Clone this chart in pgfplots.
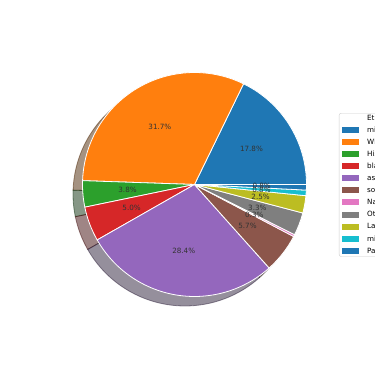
\documentclass[border=0pt]{standalone}
\usepackage{pgfplots}
\pgfplotsset{compat=1.18}
\usepackage{fontspec}
\setmainfont{DejaVu Sans}
\definecolor{c0}{HTML}{1F77B4}
\definecolor{c1}{HTML}{FF7F0E}
\definecolor{c2}{HTML}{2CA02C}
\definecolor{c3}{HTML}{D62728}
\definecolor{c4}{HTML}{9467BD}
\definecolor{c5}{HTML}{8C564B}
\definecolor{c6}{HTML}{E377C2}
\definecolor{c7}{HTML}{7F7F7F}
\definecolor{c8}{HTML}{BCBD22}
\definecolor{c9}{HTML}{17BECF}
% shares (percent) and colours, in the order of the legend
\def\slices{17.8/c0, 31.7/c1, 3.8/c2, 5.0/c3, 28.4/c4, 5.7/c5, 0.3/c6, 3.3/c7, 2.5/c8, 0.8/c9, 0.8/c0}
\def\total{100.1}
\begin{document}
\begin{tikzpicture}
\path[use as bounding box] (0,0) rectangle (375pt,366pt);
\clip (0,0) rectangle (375pt,366pt);
\begin{axis}[
  hide axis, x=112pt, y=112pt,
  xmin=-1, xmax=1, ymin=-1, ymax=1,
  anchor=origin, at={(194.5pt,181.5pt)},
  clip=false,
  legend cell align=left,
  legend image code/.code={\fill[#1, draw=none, sharp corners] (0pt,-0.6pt) rectangle (17pt,5.4pt); \path[draw=none, fill=none] (0pt,0pt) -- (25pt,0pt);},
  legend style={at={(axis description cs:1.145,0.819)}, anchor=north west,
    draw=black!20, rounded corners=2pt, fill=white,
    inner xsep=3pt, inner ysep=2pt,
    font=\fontsize{7.2}{8}\selectfont,
    row sep=5.25pt, column sep=0pt,
    nodes={inner sep=0pt, text height=5.3pt, text depth=1.4pt, anchor=base west}},
]
\addlegendimage{empty legend}\addlegendentry{Ethnicity}
\addlegendimage{fill=c0}\addlegendentry{mixed}
\addlegendimage{fill=c1}\addlegendentry{White}
\addlegendimage{fill=c2}\addlegendentry{Hispanic}
\addlegendimage{fill=c3}\addlegendentry{black}
\addlegendimage{fill=c4}\addlegendentry{asian}
\addlegendimage{fill=c5}\addlegendentry{south asian}
\addlegendimage{fill=c6}\addlegendentry{Native American}
\addlegendimage{fill=c7}\addlegendentry{Other}
\addlegendimage{fill=c8}\addlegendentry{Latino}
\addlegendimage{fill=c9}\addlegendentry{middle eastern}
\addlegendimage{fill=c0}\addlegendentry{Pacific Islander}
% shadows
\foreach \v/\c [remember=\e as \s (initially 0)] in \slices {
  \pgfmathsetmacro\e{\s+\v*360/\total}
  \edef\temp{\noexpand\filldraw[fill=\c!30!black, draw=\c!30!black, opacity=0.5, line width=0.8pt, shift={(-9.5pt,-9.5pt)}]
    (axis cs:0,0) -- ++(\s:112pt) arc[start angle=\s, end angle=\e, radius=112pt] -- cycle;}
  \temp
}
% wedges
\foreach \v/\c [remember=\e as \s (initially 0)] in \slices {
  \pgfmathsetmacro\e{\s+\v*360/\total}
  \edef\temp{\noexpand\filldraw[fill=\c, draw=white, line width=0.8pt, line join=round]
    (axis cs:0,0) -- ++(\s:112pt) arc[start angle=\s, end angle=\e, radius=112pt] -- cycle;}
  \temp
}
% labels
\foreach \v/\c [remember=\e as \s (initially 0)] in \slices {
  \pgfmathsetmacro\e{\s+\v*360/\total}
  \pgfmathsetmacro\mx{0.6*cos((\s+\e)/2)}
  \pgfmathsetmacro\my{0.6*sin((\s+\e)/2)}
  \edef\temp{\noexpand\node[text=black!80, font=\noexpand\fontsize{7.2}{8}\noexpand\selectfont, inner sep=0pt] at (axis cs:\mx,\my) {\v\noexpand\%};}
  \temp
}
\end{axis}
\end{tikzpicture}
\end{document}
